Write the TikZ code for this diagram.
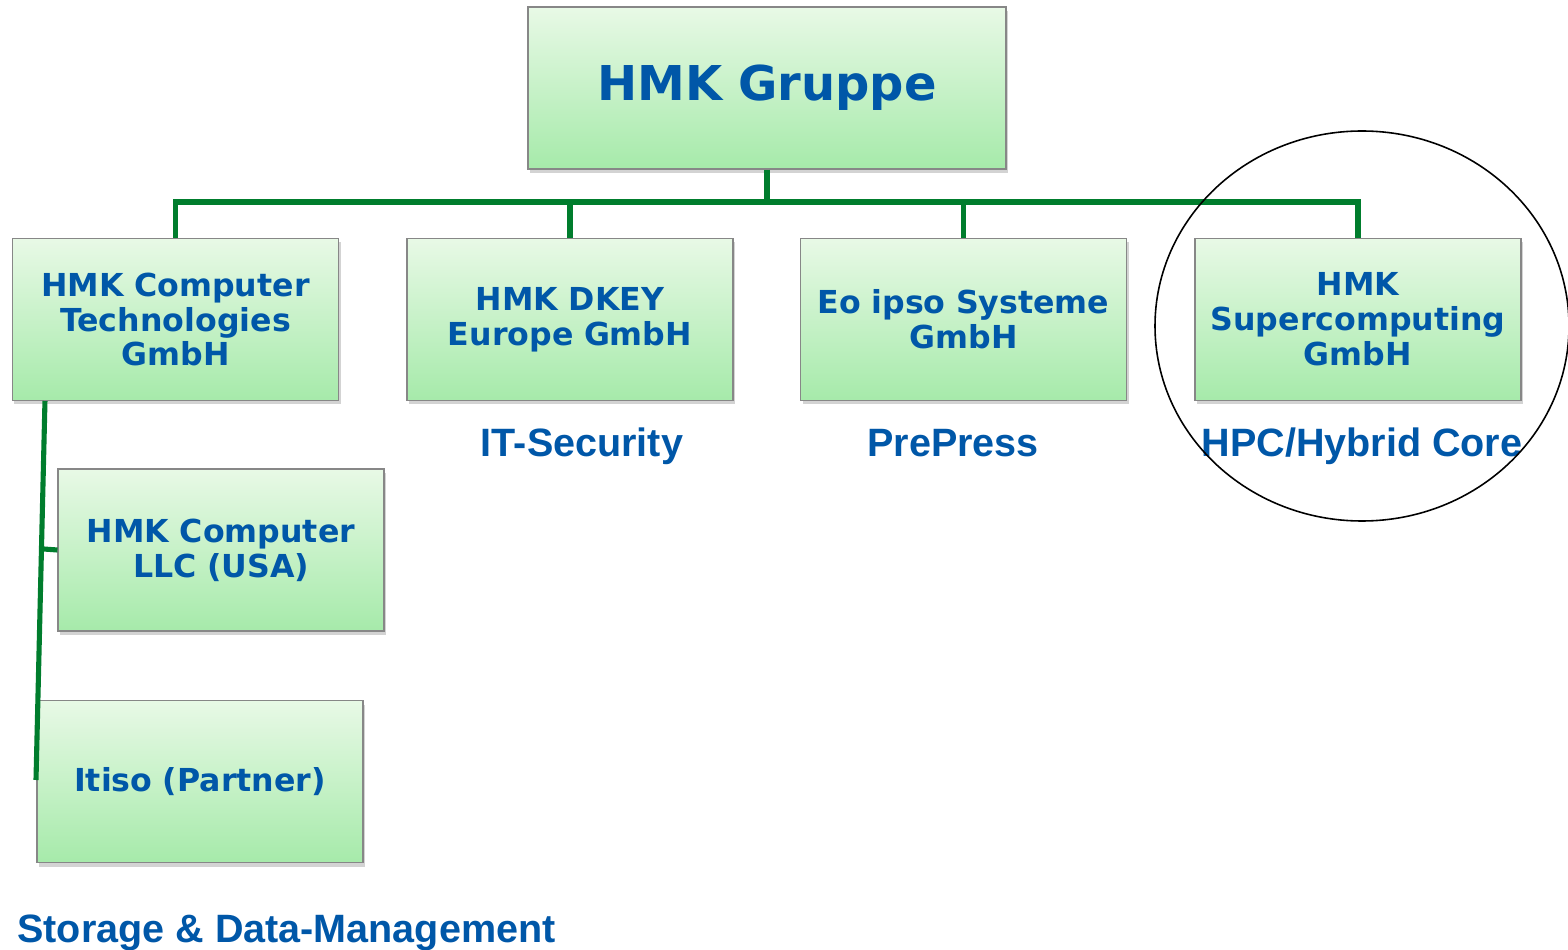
\documentclass[tikz,border=0pt]{standalone}
\usepackage{fontspec}
\setmainfont{DejaVu Sans}
\newfontfamily\areafont[BoldFont={Liberation Sans Bold}]{Liberation Sans}
\usetikzlibrary{shadows}
\usetikzlibrary{calc}
\definecolor{hmkblue}{RGB}{0,87,168}
\definecolor{hmkgreen}{RGB}{0,125,45}
\definecolor{boxtop}{RGB}{232,249,230}
\definecolor{boxbottom}{RGB}{166,234,170}
\definecolor{boxline}{RGB}{135,135,135}

\begin{document}
\begin{tikzpicture}[x=0.2mm,y=-0.2mm,
  firm/.style={draw=boxline, line width=0.6pt, top color=boxtop, bottom color=boxbottom,
    minimum width=6.52cm, minimum height=3.24cm, text width=6.4cm, align=center,
    inner sep=0pt, text=hmkblue, font=\bfseries\fontsize{18}{19.9}\selectfont,
    drop shadow={shadow xshift=0.4mm, shadow yshift=-0.8mm, opacity=0.35}},
  area/.style={text=hmkblue, anchor=base, inner sep=0pt, font=\areafont\bfseries\fontsize{22.5}{25}\selectfont},
  link/.style={hmkgreen, line width=2.9pt}]
\useasboundingbox (0,0) rectangle (1568,950);
% the holding
\node[firm, minimum width=9.56cm, text width=9cm, font=\bfseries\fontsize{27.3}{30}\selectfont] (v0) at (767,88) {HMK Gruppe};
% first row
\node[firm] (v1) at (175.5,319.5) {HMK Computer\\Technologies\\GmbH};
\node[firm] (v2) at (570,319.5) {HMK DKEY\\Europe GmbH};
\node[firm] (v3) at (963.5,319.5) {Eo ipso Systeme\\GmbH};
\node[firm] (v4) at (1358,319.5) {HMK\\Supercomputing\\GmbH};
% below the first box
\node[firm] (v5) at (221,550) {HMK Computer\\LLC (USA)};
\node[firm] (v6) at (200,781.5) {Itiso (Partner)};
% the bus
\coordinate (bus) at (767,202);
\draw[link] (v0.south) -- (bus);
\draw[link] (v1.north) |- (bus) -| (v4.north);
\draw[link] (v2.north) -- (v2.north |- bus);
\draw[link] (v3.north) -- (v3.north |- bus);
% the left branch
\coordinate (t0) at ($(v1.south west)+(33,0)$);
\coordinate (t1) at (36,780);
\draw[link] (t0) -- (t1);
\draw[link] ($(t0)!0.39!(t1)$) -- (v5.west);
% business areas
\node[area] (a2) at (582,457) {IT-Security};
\node[area] (a3) at (953,457) {PrePress};
\node[area] (a4) at (1362,457) {HPC/Hybrid Core};
\node[area, anchor=base west] (a1) at (17,942) {Storage \& Data-Management};
% the ring
\draw[line width=0.9pt] (1362,326) ellipse [x radius=4.14cm, y radius=3.9cm];
\end{tikzpicture}
\end{document}
